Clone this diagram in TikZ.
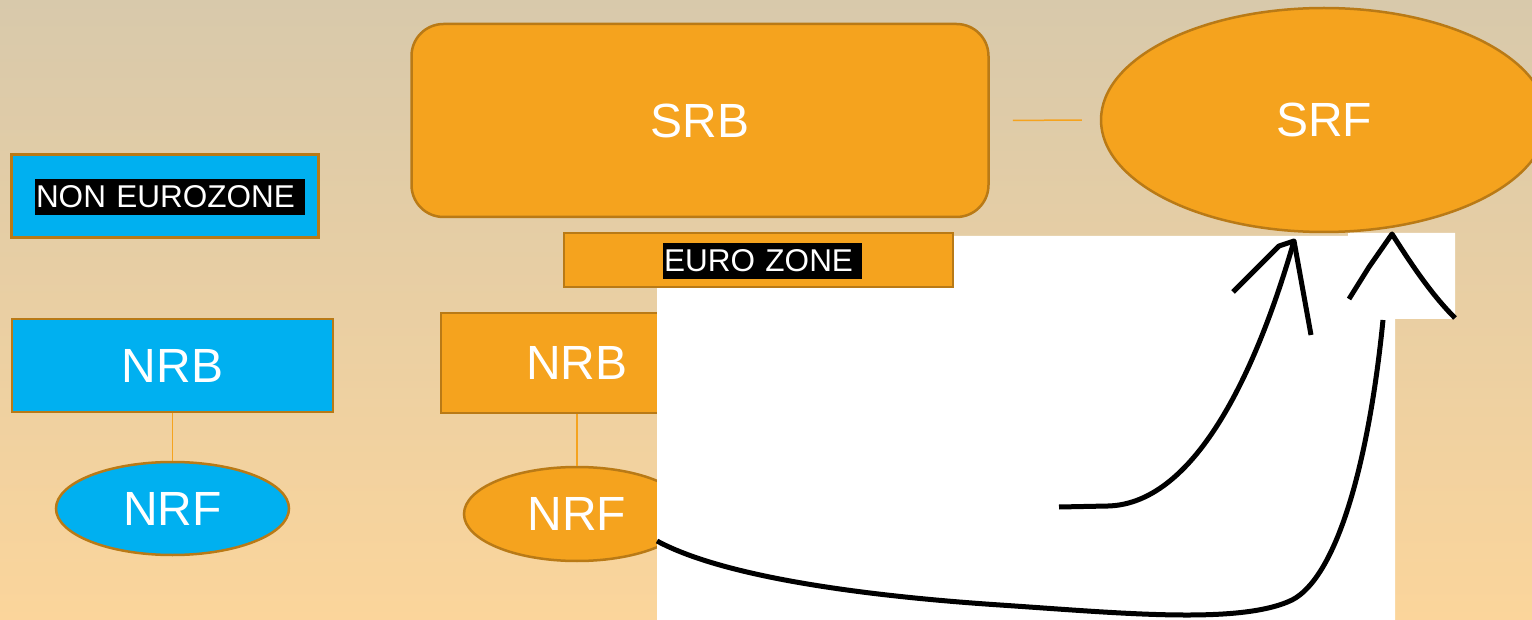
\documentclass[tikz,border=0pt]{standalone}
\usepackage{fontspec}
\setmainfont{Liberation Sans}
\usetikzlibrary{shapes.geometric}
\definecolor{bgtop}{RGB}{216,201,171}
\definecolor{bgbot}{RGB}{251,213,155}
\definecolor{orfill}{RGB}{245,163,30}
\definecolor{orline}{RGB}{185,122,22}
\definecolor{blfill}{RGB}{0,176,240}
\begin{document}
\begin{tikzpicture}[x=1pt,y=-1pt,
  box/.style={draw=orline, line width=2.5pt, inner sep=0pt, text=white, font=\fontsize{48}{52}\selectfont},
  obox/.style={box, fill=orfill},
  bbox/.style={box, fill=blfill},
  oell/.style={obox, ellipse},
  bell/.style={bbox, ellipse},
  hl/.style={fill=black, text=white, inner xsep=1pt, inner ysep=0pt, minimum height=36pt, align=left, font=\fontsize{31.5}{36}\selectfont},
  link/.style={draw=orfill, line width=1.5pt},
  pen/.style={draw=black, line width=5pt, line cap=butt, line join=round}
]
\useasboundingbox (0,0) rectangle (1532,620);
\shade[top color=bgtop, bottom color=bgbot] (0,0) rectangle (1532,620);

% orange NRB / NRF (partly hidden)
\node[obox, minimum width=272pt, minimum height=100pt] (nrbo) at (577,363) {NRB};
\node[oell, minimum width=226pt, minimum height=94pt] (nrfo) at (577,514) {NRF};
\draw[link] (nrbo.south) -- (nrfo.north);

% white pasted area
\fill[white] (657,236) -- (1348,236) -- (1348,233) -- (1455,233) -- (1455,319) -- (1395,319) -- (1395,620) -- (657,620) -- cycle;

% top row
\node[obox, rounded corners=32pt, minimum width=577pt, minimum height=193pt] (srb) at (700,120.5) {SRB};
\node[oell, minimum width=446pt, minimum height=224pt] (srf) at (1324,120) {SRF};
\draw[link, shorten <=23pt, shorten >=18pt] (srb.east) -- (srf.west);

% euro zone label
\node[obox, minimum width=389pt, minimum height=54pt] (ez) at (758.5,260) {};
\node[hl, text width=197pt] (ezt) at (762.5,261) {EURO ZONE};

% non eurozone label
\node[bbox, minimum width=307pt, minimum height=83pt] (nez) at (165,196) {};
\node[hl, text width=268pt] (nezt) at (170,197) {NON EUROZONE};

% blue NRB / NRF
\node[bbox, minimum width=321pt, minimum height=93pt] (nrbb) at (172.5,365.5) {NRB};
\node[bell, minimum width=233pt, minimum height=93pt] (nrfb) at (172.5,508.5) {NRF};
\draw[link] (nrbb.south) -- (nrfb.north);

% hand drawn arrows
\coordinate (a1s) at (1059,507);
\coordinate (a1t) at (1294,241);
\draw[pen] (a1s) -- (1108,506) .. controls (1185,504) and (1248,400) .. (a1t);
\draw[pen] (1233,292) -- (1279,246) -- (a1t) -- (1311,335);

\coordinate (a2s) at (657,541);
\coordinate (a2e) at (1383,320);
\draw[pen] (a2s) .. controls (720,575) and (850,595) .. (1000,605)
  .. controls (1120,613) and (1240,625) .. (1292,600)
  .. controls (1335,578) and (1368,470) .. (a2e);
\coordinate (a2t) at (1392,234);
\draw[pen] (1349,299) -- (1369,267) -- (a2t) .. controls (1410,262) and (1430,293) .. (1455,318);
\end{tikzpicture}
\end{document}
